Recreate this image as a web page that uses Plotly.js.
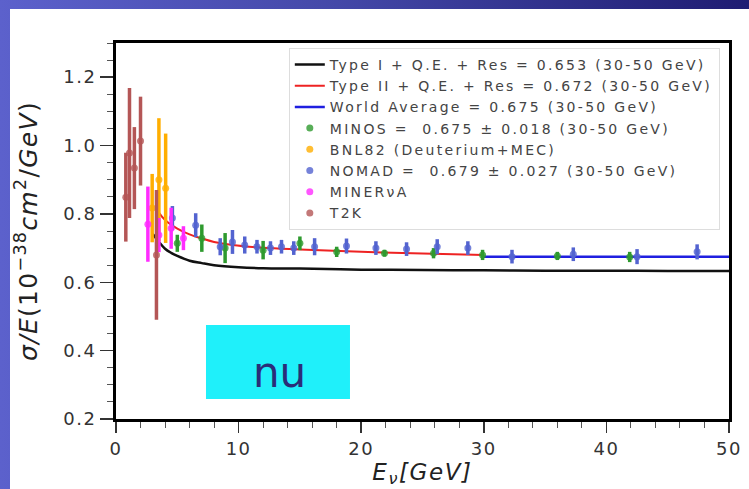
<!DOCTYPE html>
<html>
<head>
<meta charset="utf-8">
<script src="https://cdn.plot.ly/plotly-3.0.1.min.js"></script>
<style>
  html, body { margin:0; padding:0; width:749px; height:489px; overflow:hidden;
    background: linear-gradient(to right, #5c61cc 0%, #4448a8 45%, #1f1c72 100%); }
  #chart { position:absolute; left:10px; top:9px; width:739px; height:480px; background:#fff; }
  .legendtext { letter-spacing: 2.3px; }
  .xtick text, .ytick text { letter-spacing: 1.5px; }
  .xtitle { letter-spacing: 1.6px; }
  .ytitle { letter-spacing: 1.3px; }
</style>
</head>
<body>
<div id="chart"></div>
<script>
// Model curves
const typeI_x = [3.0, 3.5, 4.0, 4.5, 5.0, 6.0, 7.0, 8.0, 10, 12, 15, 20, 25, 30, 35, 40, 45, 50];
const typeI_y = [0.741, 0.718, 0.698, 0.686, 0.677, 0.663, 0.656, 0.650, 0.644, 0.641, 0.640, 0.637, 0.636, 0.635, 0.634, 0.634, 0.633, 0.633];
const typeII_x = [3.45, 4.0, 5.0, 6.0, 7.0, 8.0, 9.5, 12, 15, 20, 25, 30];
const typeII_y = [0.806, 0.782, 0.757, 0.740, 0.728, 0.718, 0.709, 0.701, 0.696, 0.689, 0.684, 0.680];
const world_x = [30, 50];
const world_y = [0.675, 0.675];

// Measurements
const minos_x = [5.0, 7.0, 8.9, 12.0, 15.0, 18.0, 21.9, 25.9, 29.9, 36.0, 41.9];
const minos_y = [0.714, 0.729, 0.700, 0.694, 0.714, 0.689, 0.685, 0.685, 0.680, 0.677, 0.674];
const minos_e = [0.025, 0.040, 0.044, 0.027, 0.020, 0.015, 0.010, 0.015, 0.015, 0.012, 0.015];

const bnl_x = [2.95, 3.5, 4.05];
const bnl_y = [0.817, 0.900, 0.875];
const bnl_e = [0.10, 0.18, 0.16];

const nomad_x = [4.6, 6.5, 8.5, 9.5, 10.5, 11.5, 12.6, 13.5, 14.5, 16.2, 18.8, 21.2, 23.7, 26.2, 28.7, 32.3, 37.3, 42.5, 47.4];
const nomad_y = [0.788, 0.767, 0.704, 0.718, 0.709, 0.704, 0.700, 0.704, 0.700, 0.704, 0.706, 0.700, 0.697, 0.704, 0.700, 0.675, 0.682, 0.675, 0.689];
const nomad_e = [0.035, 0.035, 0.025, 0.035, 0.025, 0.020, 0.020, 0.020, 0.020, 0.025, 0.022, 0.020, 0.020, 0.022, 0.020, 0.020, 0.020, 0.022, 0.022];

const minerva_x = [2.6, 3.5, 4.5, 5.5];
const minerva_y = [0.770, 0.738, 0.758, 0.729];
const minerva_e = [0.11, 0.05, 0.06, 0.035];

const t2k_x = [0.8, 1.1, 1.5, 2.0, 3.3];
const t2k_y = [0.849, 0.978, 0.934, 1.013, 0.680];
const t2k_e = [0.13, 0.19, 0.12, 0.13, 0.19];

// Labels
const names = [
  "Type I + Q.E. + Res = 0.653 (30-50 GeV)",
  "Type II + Q.E. + Res = 0.672 (30-50 GeV)",
  "World Average = 0.675 (30-50 GeV)",
  "MINOS =  0.675 ± 0.018 (30-50 GeV)",
  "BNL82 (Deuterium+MEC)",
  "NOMAD =  0.679 ± 0.027 (30-50 GeV)",
  "MINERνA",
  "T2K"
];
const xTicks = [0, 10, 20, 30, 40, 50];
const yTicks = [0.2, 0.4, 0.6, 0.8, 1.0, 1.2];

function pts(x, y, e, color, name) {
  return {
    type: 'scatter', mode: 'markers', x: x, y: y, name: name,
    marker: { color: color, size: 7, opacity: 0.8 },
    error_y: { type: 'data', array: e, visible: true, color: color, thickness: 3.5, width: 0 }
  };
}

const data = [
  { type: 'scatter', mode: 'lines', x: typeI_x, y: typeI_y, name: names[0], line: { color: '#111111', width: 2.5, shape: 'spline' } },
  { type: 'scatter', mode: 'lines', x: typeII_x, y: typeII_y, name: names[1], line: { color: '#ee2222', width: 2, shape: 'spline' } },
  { type: 'scatter', mode: 'lines', x: world_x, y: world_y, name: names[2], line: { color: '#1f1fe0', width: 2.5 } },
  pts(minos_x, minos_y, minos_e, '#2e9a2e', names[3]),
  pts(bnl_x, bnl_y, bnl_e, '#ffae00', names[4]),
  pts(nomad_x, nomad_y, nomad_e, '#5363d0', names[5]),
  pts(minerva_x, minerva_y, minerva_e, '#ff2cff', names[6]),
  pts(t2k_x, t2k_y, t2k_e, '#b45656', names[7])
];

const tickFont = { family: 'DejaVu Sans', size: 18, color: '#333333' };

const layout = {
  width: 739, height: 480,
  margin: { l: 106, r: 20, t: 34, b: 70 },
  paper_bgcolor: '#ffffff', plot_bgcolor: '#ffffff',
  showlegend: true,
  legend: {
    x: 0.985, y: 0.987, xanchor: 'right', yanchor: 'top',
    bgcolor: '#ffffff', bordercolor: '#dddddd', borderwidth: 1,
    font: { family: 'DejaVu Sans', size: 14, color: '#444444' },
    tracegroupgap: 0
  },
  xaxis: {
    range: [0, 50], tickvals: xTicks, ticktext: xTicks.map(String),
    ticks: 'outside', ticklen: 11, tickwidth: 1.5, tickcolor: '#333',
    minor: { dtick: 2, ticks: 'outside', ticklen: 6, tickwidth: 1, tickcolor: '#555' },
    showline: true, linecolor: '#000', linewidth: 3, mirror: true,
    showgrid: false, zeroline: false, tickfont: tickFont,
    title: { text: '<i>E<sub>ν</sub>[GeV]</i>', font: { family: 'DejaVu Sans', size: 23, color: '#222' }, standoff: 2 }
  },
  yaxis: {
    range: [0.2, 1.3], tickvals: yTicks, ticktext: yTicks.map(v => v.toFixed(1)),
    ticks: 'outside', ticklen: 13, tickwidth: 1.5, tickcolor: '#333',
    minor: { dtick: 0.05, ticks: 'outside', ticklen: 6, tickwidth: 1, tickcolor: '#555' },
    showline: true, linecolor: '#000', linewidth: 3, mirror: true,
    showgrid: false, zeroline: false, tickfont: tickFont,
    title: { text: '<i>σ/E</i>(10<sup>−38</sup><i>cm</i><sup>2</sup>/<i>GeV</i>)', font: { family: 'DejaVu Sans', size: 25, color: '#222' }, standoff: 24 }
  },
  shapes: [
    { type: 'rect', xref: 'paper', yref: 'paper', x0: 0.1468, x1: 0.3817, y0: 0.0532, y1: 0.25,
      fillcolor: '#1ff0fa', line: { width: 0 }, layer: 'above' }
  ],
  annotations: [
    { xref: 'paper', yref: 'paper', x: 0.266, y: 0.125, xanchor: 'center', yanchor: 'middle',
      text: 'nu', showarrow: false,
      font: { family: 'DejaVu Sans', size: 42, color: '#2a2d78' } }
  ]
};

Plotly.newPlot('chart', data, layout, { displayModeBar: false, staticPlot: true });
</script>
</body>
</html>
